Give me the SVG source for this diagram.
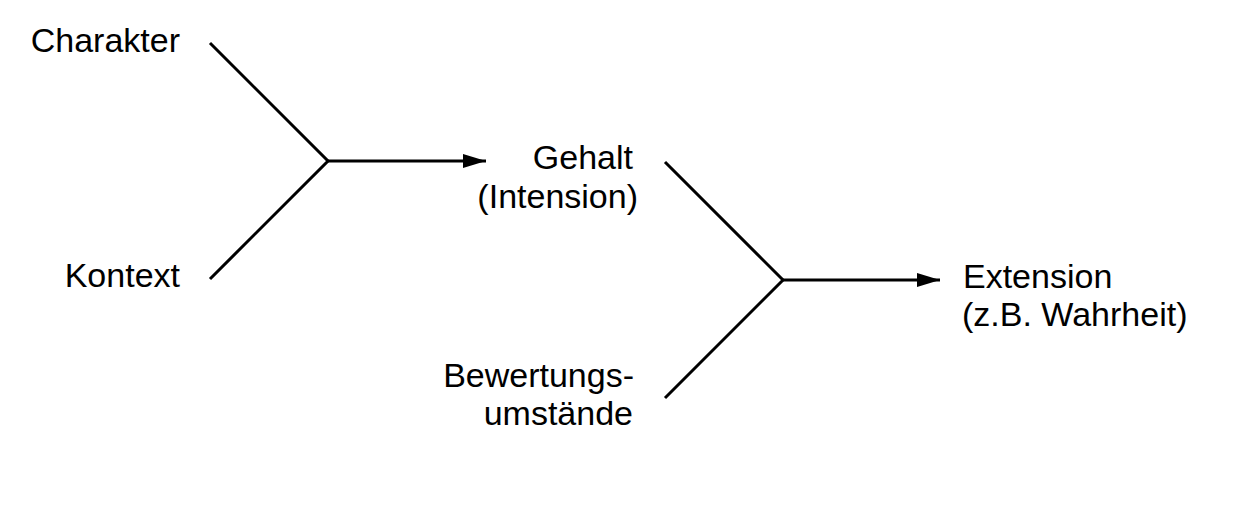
<svg xmlns="http://www.w3.org/2000/svg" width="1241" height="509" viewBox="0 0 1241 509">
<style>
text{font-family:"Liberation Sans",Arial,sans-serif;font-size:34px;fill:#000}
.r{text-anchor:end}
.c{fill:none;stroke:#000;stroke-width:3;stroke-linecap:butt;stroke-linejoin:miter}
</style>
<defs>
<marker id="ah" markerWidth="24" markerHeight="16" refX="23" refY="7" orient="auto" markerUnits="userSpaceOnUse">
<path d="M0,0 L23,7 L0,14 Z" fill="#000"/>
</marker>
</defs>
<rect width="1241" height="509" fill="#fff"/>
<g id="connectors">
<polyline class="c" points="210,43 328,161 210,279"/>
<line class="c" x1="328" y1="161" x2="486" y2="161" marker-end="url(#ah)"/>
<polyline class="c" points="665,162 783,280 665,398"/>
<line class="c" x1="783" y1="280" x2="940" y2="280" marker-end="url(#ah)"/>
</g>
<g id="charakter"><text class="r" x="180" y="52">Charakter</text></g>
<g id="kontext"><text class="r" x="180" y="287">Kontext</text></g>
<g id="gehalt"><text class="r" x="633" y="169">Gehalt</text><text class="r" x="638" y="208">(Intension)</text></g>
<g id="bewertung"><text class="r" x="634" y="387">Bewertungs-</text><text class="r" x="633" y="425">umstände</text></g>
<g id="extension"><text x="963" y="288">Extension</text><text x="962" y="326">(z.B. Wahrheit)</text></g>
</svg>
